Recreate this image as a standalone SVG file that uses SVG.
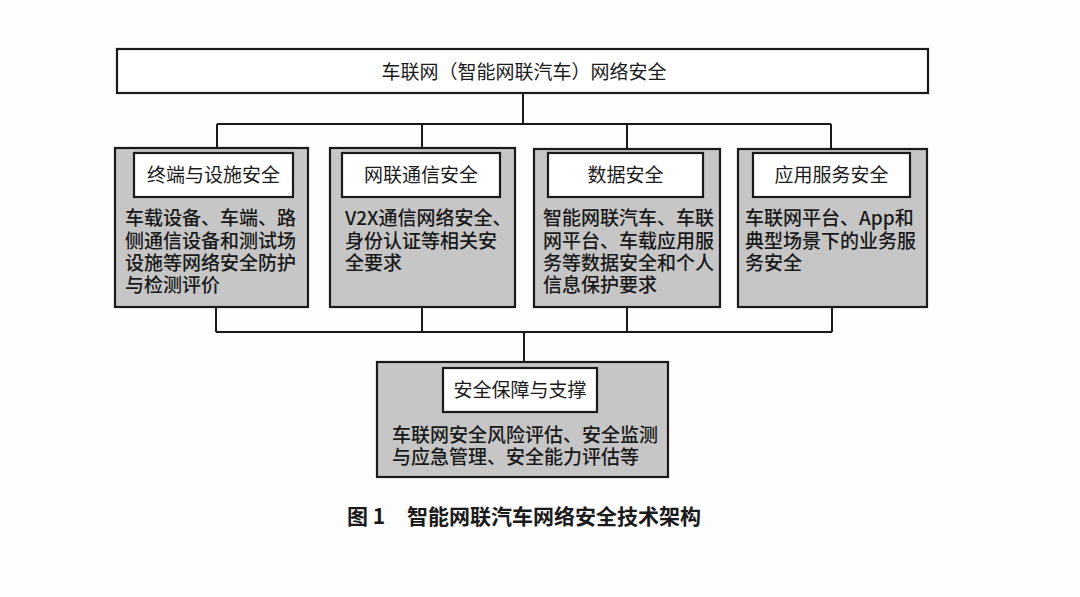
<svg xmlns="http://www.w3.org/2000/svg" width="1080" height="597" viewBox="0 0 1080 597">
<style>
.bg{fill:#fdfdfd}
.outer{fill:#c6c6c6;stroke:#1a1a1a;stroke-width:2.2}
.inner{fill:#ffffff;stroke:#1a1a1a;stroke-width:2.2}
.top{fill:#ffffff;stroke:#1a1a1a;stroke-width:2.2}
.conn{fill:none;stroke:#1a1a1a;stroke-width:2}
text{font-family:"Noto Sans CJK SC","Liberation Serif",sans-serif;fill:#1a1a1a}
.t{font-size:19px;text-anchor:middle}
.b{font-size:19px;font-weight:500}
.cap{font-size:21px;font-weight:700}
</style>
<rect class="bg" x="0" y="0" width="1080" height="597"/>
<g id="connectors">
<path class="conn" d="M523 93 V124 M217 124 H831 M217 124 V148 M422 124 V148 M627 124 V149 M831 124 V149"/>
<path class="conn" d="M216 307 V332 M422 307 V332 M627 307 V332 M832 307 V332 M216 332 H832 M524 332 V362"/>
</g>
<g id="top">
<rect class="top" x="117" y="49" width="811" height="44"/>
<text class="t" x="524" y="79" font-size="18">车联网（智能网联汽车）网络安全</text>
</g>
<g id="n1">
<rect class="outer" x="115" y="148" width="193" height="159"/>
<rect class="inner" x="134" y="153" width="159" height="44"/>
<text class="t" x="213.5" y="182">终端与设施安全</text>
<text class="b"><tspan x="125" y="225">车载设备、车端、路</tspan><tspan x="125" y="248">侧通信设备和测试场</tspan><tspan x="125" y="270">设施等网络安全防护</tspan><tspan x="125" y="292">与检测评价</tspan></text>
</g>
<g id="n2">
<rect class="outer" x="330" y="148" width="185" height="159"/>
<rect class="inner" x="342" y="153" width="158" height="44"/>
<text class="t" x="421" y="182">网联通信安全</text>
<text class="b"><tspan x="345" y="225">V2X通信网络安全、</tspan><tspan x="345" y="248">身份认证等相关安</tspan><tspan x="345" y="270">全要求</tspan></text>
</g>
<g id="n3">
<rect class="outer" x="534" y="149" width="186" height="158"/>
<rect class="inner" x="548" y="153" width="155" height="44"/>
<text class="t" x="625.5" y="182">数据安全</text>
<text class="b"><tspan x="543" y="225">智能网联汽车、车联</tspan><tspan x="543" y="248">网平台、车载应用服</tspan><tspan x="543" y="270">务等数据安全和个人</tspan><tspan x="543" y="292">信息保护要求</tspan></text>
</g>
<g id="n4">
<rect class="outer" x="738" y="149" width="189" height="158"/>
<rect class="inner" x="753" y="153" width="157" height="44"/>
<text class="t" x="831.5" y="182">应用服务安全</text>
<text class="b"><tspan x="745" y="225">车联网平台、App和</tspan><tspan x="745" y="248">典型场景下的业务服</tspan><tspan x="745" y="270">务安全</tspan></text>
</g>
<g id="n5">
<rect class="outer" x="377" y="362" width="291" height="115"/>
<rect class="inner" x="443" y="368" width="154" height="44"/>
<text class="t" x="520" y="397">安全保障与支撑</text>
<text class="b"><tspan x="392" y="442">车联网安全风险评估、安全监测</tspan><tspan x="392" y="464">与应急管理、安全能力评估等</tspan></text>
</g>
<g id="caption">
<text class="cap" x="347" y="524">图 1</text>
<text class="cap" x="407" y="524">智能网联汽车网络安全技术架构</text>
</g>
</svg>
